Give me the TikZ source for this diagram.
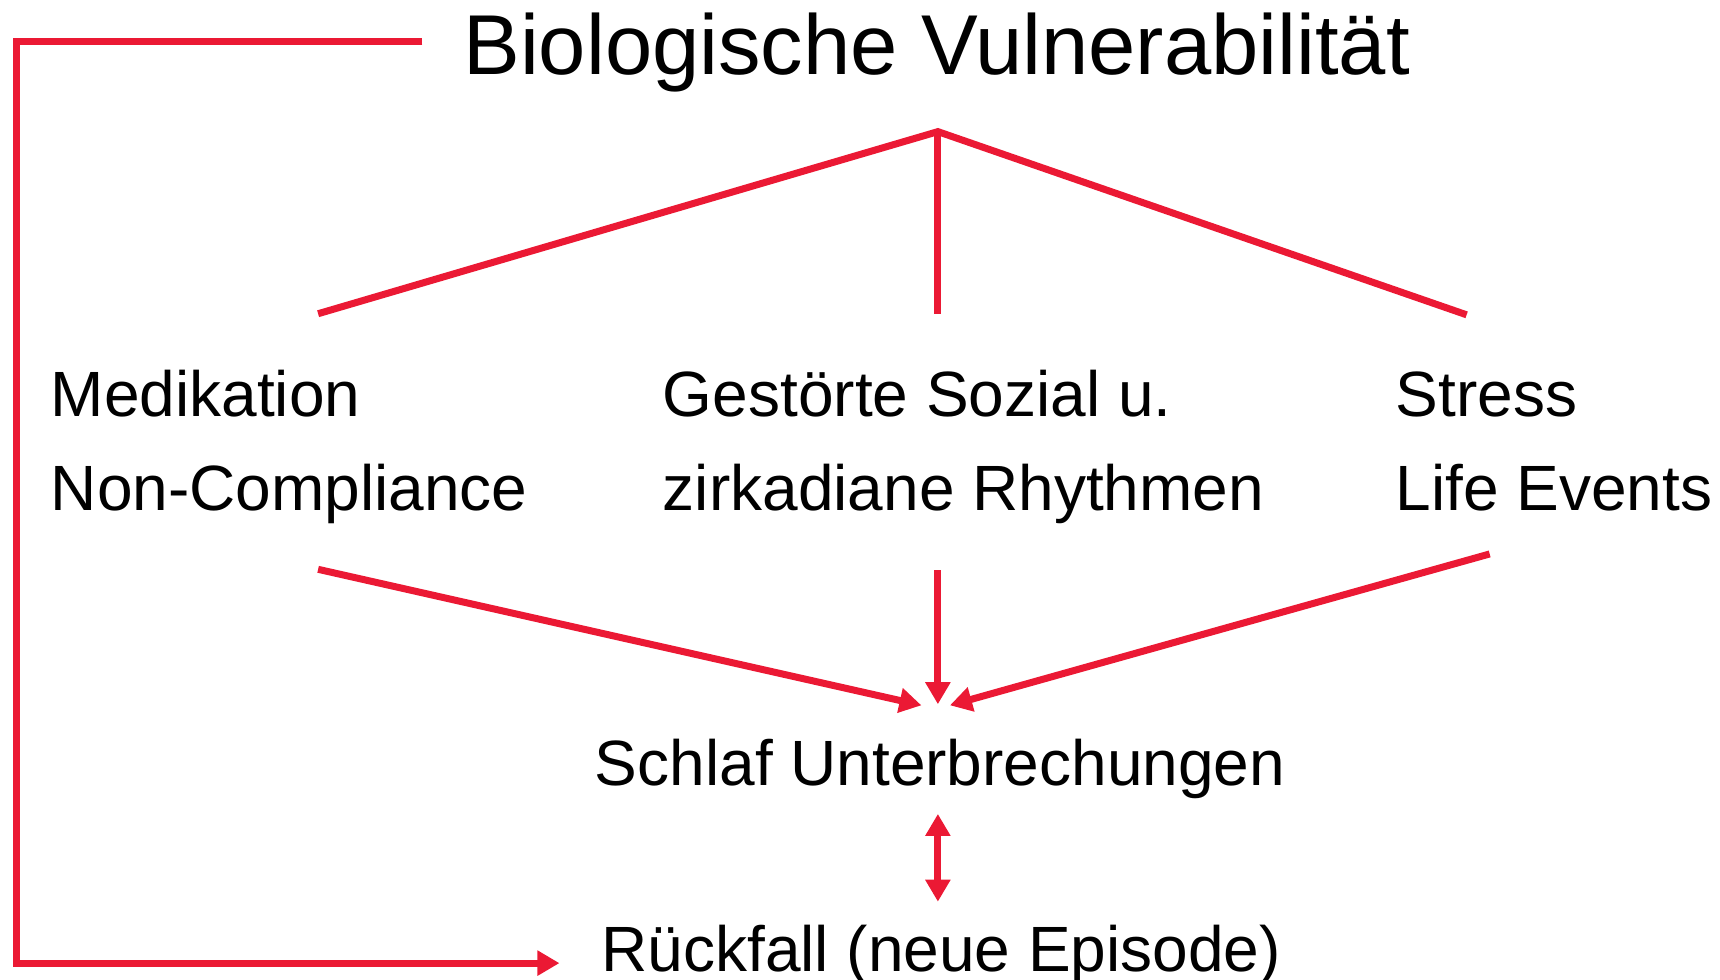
\documentclass[tikz,border=0pt]{standalone}
\usepackage{fontspec}
\setmainfont{Liberation Sans}
\usetikzlibrary{arrows.meta}
\definecolor{linkred}{RGB}{235,25,52}
\begin{document}
\begin{tikzpicture}[x=0.5485pt,y=-0.5485pt,
  link/.style={draw=linkred,line width=3.5pt},
  tipend/.style={-{Triangle[length=11pt,width=12pt]}},
  tipboth/.style={{Triangle[length=11pt,width=12pt]}-{Triangle[length=11pt,width=12pt]}},
  headline/.style={font=\fontsize{42.5}{50}\selectfont,inner sep=0pt,anchor=base west},
  label/.style={font=\fontsize{32}{38}\selectfont,inner sep=0pt,anchor=base west}]
\useasboundingbox (0,0) rectangle (1568,893);

% texts
\node[headline] (bio) at (422,68) {Biologische Vulnerabilität};
\node[label] (med1) at (46,380) {Medikation};
\node[label] (med2) at (46,465) {Non-Compliance};
\node[label] (soc1) at (604,380) {Gestörte Sozial u.};
\node[label] (soc2) at (604,465) {zirkadiane Rhythmen};
\node[label] (str1) at (1272,380) {Stress};
\node[label] (str2) at (1272,465) {Life Events};
\node[label] (sleep) at (542,716) {Schlaf Unterbrechungen};
\node[label] (relapse) at (548,886) {Rückfall (neue Episode)};

% connector end points
\coordinate (apex) at (855,120);
\coordinate (fanL) at (290,286);
\coordinate (fanM) at (855,286);
\coordinate (fanR) at (1337,287);
\coordinate (srcL) at (290,519);
\coordinate (srcM) at (855,520);
\coordinate (srcR) at (1358,505);
\coordinate (inL) at (840,643);
\coordinate (inM) at (855,642);
\coordinate (inR) at (866,643);
\coordinate (dblTop) at (855,742);
\coordinate (dblBot) at (855,822);
\coordinate (loopStart) at (385,38);
\coordinate (loopTL) at (15,38);
\coordinate (loopBL) at (15,878);
\coordinate (loopEnd) at (510,878);

% fan from the vulnerability
\draw[link,line join=miter] (fanL) -- (apex) -- (fanR);
\draw[link] (apex) -- (fanM);

% converging arrows
\draw[link,tipend] (srcL) -- (inL);
\draw[link,tipend] (srcM) -- (inM);
\draw[link,tipend] (srcR) -- (inR);

% sleep <-> relapse
\draw[link,tipboth] (dblTop) -- (dblBot);

% feedback loop on the left
\draw[link,tipend,line join=miter] (loopStart) -- (loopTL) -- (loopBL) -- (loopEnd);
\end{tikzpicture}
\end{document}
